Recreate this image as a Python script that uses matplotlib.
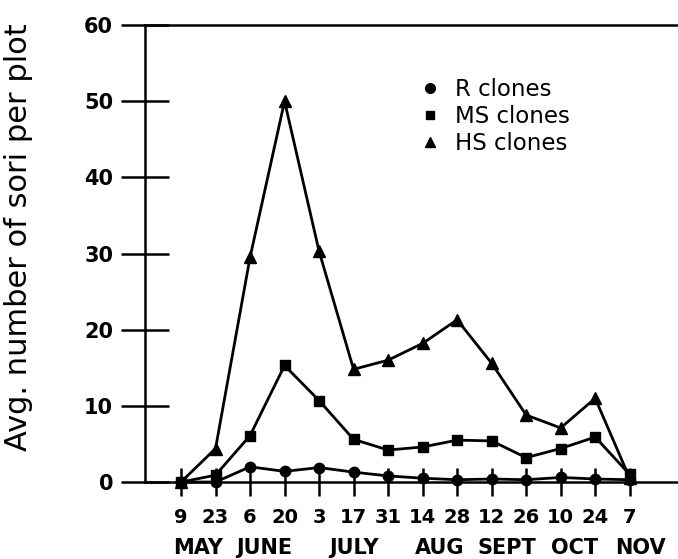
import matplotlib
matplotlib.use("Agg")
import matplotlib.pyplot as plt
from matplotlib.lines import Line2D

dates = ["9", "23", "6", "20", "3", "17", "31", "14", "28", "12", "26", "10", "24", "7"]
months = ["MAY", "JUNE", "JULY", "AUG", "SEPT", "OCT", "NOV"]
month_pos = [0.5, 2.4, 5.0, 7.5, 9.45, 11.4, 13.3]

r_clones = [0, 0, 2.0, 1.4, 1.9, 1.3, 0.8, 0.5, 0.3, 0.4, 0.3, 0.6, 0.4, 0.3]
ms_clones = [0, 0.9, 6.1, 15.3, 10.7, 5.6, 4.2, 4.6, 5.5, 5.4, 3.2, 4.4, 5.9, 1.0]
hs_clones = [0, 4.4, 29.5, 50.0, 30.3, 14.8, 16.0, 18.2, 21.3, 15.6, 8.8, 7.1, 11.0, 0.5]

plt.rcParams['font.family'] = ['DejaVu Sans']

fig = plt.figure(figsize=(6.78, 5.59), dpi=100)
ax = fig.add_axes([0.2139, 0.1377, 0.7861, 0.8175])

x = list(range(len(dates)))
ax.plot(x, r_clones, color='black', lw=2, marker='o', ms=7.5, clip_on=False, zorder=3)
ax.plot(x, ms_clones, color='black', lw=2, marker='s', ms=6.5, clip_on=False, zorder=3)
ax.plot(x, hs_clones, color='black', lw=2, marker='^', ms=8, clip_on=False, zorder=3)

ax.set_xlim(-1.043, 14.4)
ax.set_ylim(0, 60)
ax.set_yticks(range(0, 61, 10))
ax.set_xticks(x)
ax.set_xticklabels(dates)

for lab in ax.get_xticklabels() + ax.get_yticklabels():
    lab.set_fontweight('bold')
ax.tick_params(axis='y', direction='inout', length=34, width=1.8, labelsize=15, pad=6)
ax.tick_params(axis='x', direction='inout', length=20, width=1.8, labelsize=14, pad=9)

ax.spines['right'].set_visible(False)
ax.spines['bottom'].set_visible(False)
ax.spines['left'].set_linewidth(1.8)
ax.spines['top'].set_linewidth(1.8)
ax.axhline(0, color='black', lw=1.8, clip_on=False, zorder=2)

for m, p in zip(months, month_pos):
    ax.text(p, -0.144, m, transform=ax.get_xaxis_transform(), ha='center',
            va='center', fontsize=15, fontweight='bold')

ax.set_ylabel("Avg. number of sori per plot", fontsize=22, ha='center', va='center')
ax.yaxis.set_label_coords(-0.238, 0.536)

handles = [Line2D([], [], ls='none', marker=mk, color='black', ms=s)
           for mk, s in [('o', 7), ('s', 6), ('^', 7)]]
ax.legend(handles, ["R clones", "MS clones", "HS clones"], loc='upper left',
          bbox_to_anchor=(0.5, 0.91), frameon=False, fontsize=16.5,
          handlelength=0.6, handletextpad=0.8, labelspacing=0.18, borderpad=0)

fig.savefig("out.png", dpi=100)
